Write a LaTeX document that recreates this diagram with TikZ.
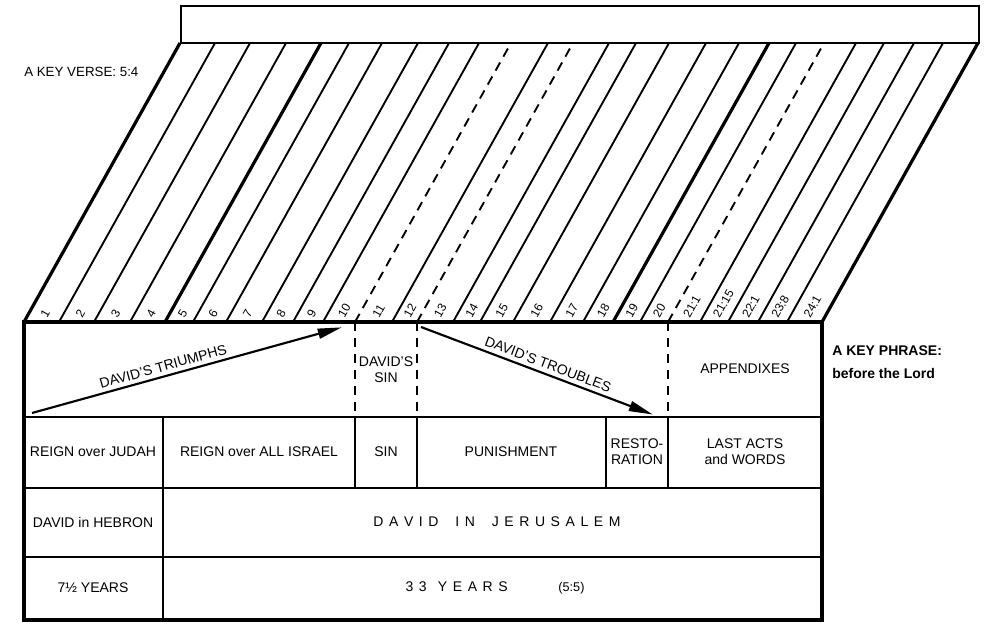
\documentclass[tikz,border=0pt]{standalone}
\usepackage{fontspec}
\setmainfont{Liberation Sans}
\usetikzlibrary{arrows.meta}
\tikzset{
  cthin/.style={line width=1.4pt},
  cbold/.style={line width=2.4pt},
  cdash/.style={line width=1.4pt,dash pattern=on 7pt off 5pt},
  cgrid/.style={line width=1.8pt},
  cframe/.style={line width=2.5pt},
  carr/.style={-{Triangle[length=18pt,width=7.5pt]},line width=1.6pt,shorten >=1pt},
  ctext/.style={font=\fontsize{10.5}{12}\selectfont,align=center,inner sep=1pt},
  cspread/.style={ctext,execute at begin node={\spaceskip=4.2pt\relax}},
  cchap/.style={font=\fontsize{9}{10}\selectfont,rotate=60.8,anchor=west,inner sep=0pt}
}
\begin{document}
\begin{tikzpicture}[x=0.75pt,y=-0.75pt]
  \useasboundingbox (0,0) rectangle (996,634);
  % title bar
  \draw[cgrid] (181,6) rectangle (979,43);
  % chapter strips
  \foreach \x/\st in {24/cbold,59/cthin,94/cthin,130/cthin,165/cbold,193/cthin,226/cthin,262/cthin,293/cthin,323/cthin,355/cdash,392/cthin,417/cdash,453/cthin,480/cthin,513/cthin,550/cthin,583/cthin,613/cbold,640/cthin,668/cdash,700/cthin,728/cthin,758/cthin,787/cthin,822/cbold}{
    \draw[\st] (\x,322) -- (\x+156,43);
  }
  \foreach \a/\b/\t in {24/59/1,59/94/2,94/130/3,130/165/4,165/193/5,193/226/6,226/262/7,262/293/8,293/323/9,323/355/10,355/392/11,392/417/12,417/453/13,453/480/14,480/513/15,513/550/16,550/583/17,583/613/18,613/640/19,640/668/20,668/700/21:1,700/728/21:15,728/758/22:1,758/787/23:8,787/822/24:1}{
    \node[cchap] (ch-\a) at ({(\a+\b)/2+2},317) {\t};
  }
  % chart frame and rows
  \draw[cframe] (24,322) rectangle (822,620);
  \draw[cgrid] (24,417) -- (822,417);
  \draw[cgrid] (24,488) -- (822,488);
  \draw[cgrid] (24,557) -- (822,557);
  \draw[cgrid] (163,417) -- (163,620);
  \foreach \x in {355,417,606,668}{
    \draw[cgrid] (\x,417) -- (\x,488);
  }
  \foreach \x in {355,417,668}{
    \draw[cdash] (\x,322) -- (\x,417);
  }
  % movements
  \coordinate (triS) at (32,413);
  \coordinate (triE) at (343,327);
  \coordinate (troS) at (421,327);
  \coordinate (troE) at (654,415);
  \draw[carr] (triS) -- node[ctext,pos=0.43,sloped,above=2pt] (triumph) {DAVID'S TRIUMPHS} (triE);
  \draw[carr] (troS) -- node[ctext,pos=0.53,sloped,above=2pt] (trouble) {DAVID'S TROUBLES} (troE);
  \node[ctext] (sinTop) at (386,370) {DAVID'S\\SIN};
  \node[ctext] (append) at (745,369) {APPENDIXES};
  % events
  \node[ctext] (judah) at (93,452) {REIGN over JUDAH};
  \node[ctext] (israel) at (259,452) {REIGN over ALL ISRAEL};
  \node[ctext] (sin) at (386,452) {SIN};
  \node[ctext] (punish) at (511,452) {PUNISHMENT};
  \node[ctext] (restore) at (637,452) {RESTO-\\RATION};
  \node[ctext] (lastacts) at (745,452) {LAST ACTS\\and WORDS};
  % places
  \node[ctext] (hebron) at (93,522) {DAVID in HEBRON};
  \node[cspread] (jerusalem) at (497,522) {D A V I D \ \ I N \ \ J E R U S A L E M};
  % time
  \node[ctext] (seven) at (93,588) {7½ YEARS};
  \node[cspread] (thirty) at (495,588) {3 3 \ Y E A R S\hspace{38pt}{\fontsize{9.5}{10}\selectfont(5:5)}};
  % keys
  \node[ctext,anchor=west,font=\fontsize{10}{12}\selectfont,inner sep=0pt] (verse) at (24,72) {A KEY VERSE: 5:4};
  \node[ctext,anchor=west,font=\fontsize{10.5}{12}\bfseries,inner sep=0pt] (phrase) at (832,351) {A KEY PHRASE:};
  \node[ctext,anchor=west,font=\fontsize{10.5}{12}\bfseries,inner sep=0pt] (lord) at (832,373) {before the Lord};
\end{tikzpicture}
\end{document}
